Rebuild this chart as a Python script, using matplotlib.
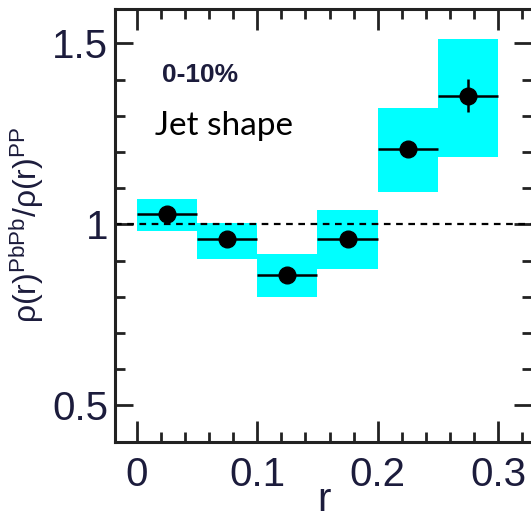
import numpy as np
import matplotlib
matplotlib.use("Agg")
import matplotlib.pyplot as plt
from matplotlib.patches import Rectangle
from matplotlib.ticker import MultipleLocator

# jet shape ratio PbPb / pp, 0-10% centrality
r_lo = [0.00, 0.05, 0.10, 0.15, 0.20, 0.25]
r_hi = [0.05, 0.10, 0.15, 0.20, 0.25, 0.30]
ratio = [1.030, 0.959, 0.860, 0.960, 1.207, 1.356]
stat_err = [0.010, 0.010, 0.010, 0.012, 0.015, 0.046]
sys_lo = [0.982, 0.905, 0.800, 0.878, 1.089, 1.186]
sys_hi = [1.071, 1.005, 0.919, 1.040, 1.322, 1.512]

plt.rcParams['font.family'] = ['Liberation Sans', 'DejaVu Sans']
plt.rcParams['mathtext.fontset'] = 'custom'
plt.rcParams['mathtext.rm'] = 'Liberation Sans'
plt.rcParams['mathtext.it'] = 'Liberation Sans'

lab_col = '#1c1c3c'

fig = plt.figure(figsize=(5.31, 5.21), dpi=100)
ax = fig.add_axes([115 / 531, 79.3 / 521, 417 / 531, 432.7 / 521])

r_c = [(a + b) / 2 for a, b in zip(r_lo, r_hi)]
for a, b, lo, hi in zip(r_lo, r_hi, sys_lo, sys_hi):
    ax.add_patch(Rectangle((a, lo), b - a, hi - lo, facecolor='#00ffff',
                           edgecolor='none', zorder=1))

ax.axhline(1.0, color='black', lw=1.6, ls=(0, (3, 2.5)), zorder=2)

xerr = [(b - a) / 2 for a, b in zip(r_lo, r_hi)]
ax.errorbar(r_c, ratio, xerr=xerr, yerr=stat_err, fmt='o', color='black',
            ms=12, elinewidth=1.8, capsize=0, zorder=3)

ax.set_xlim(-0.018, 0.328)
ax.set_ylim(0.40, 1.595)
ax.xaxis.set_major_locator(MultipleLocator(0.1))
ax.xaxis.set_minor_locator(MultipleLocator(0.02))
ax.yaxis.set_major_locator(MultipleLocator(0.5))
ax.yaxis.set_minor_locator(MultipleLocator(0.1))
ax.set_xticks([0, 0.1, 0.2, 0.3])
ax.set_xticklabels(['0', '0.1', '0.2', '0.3'])
ax.set_yticks([0.5, 1.0, 1.5])
ax.set_yticklabels(['0.5', '1', '1.5'])

ax.tick_params(which='both', direction='in', top=True, right=True,
               width=2, color='#222222', labelsize=29, labelcolor=lab_col)
ax.tick_params(axis='x', which='major', length=15, pad=10)
ax.tick_params(axis='y', which='major', length=13, pad=5)
ax.tick_params(which='minor', length=7)
for s in ax.spines.values():
    s.set_linewidth(2.2)
    s.set_color('#222222')
ax.spines['right'].set_visible(False)

ax.set_xlabel('r', fontsize=29, color=lab_col, labelpad=-9)
ax.set_ylabel(r'$\rho(r)^{PbPb}/\rho(r)^{PP}$', fontsize=23, color=lab_col,
              labelpad=4)

ax.text(162 / 531, 1 - 75 / 521, '0-10%', transform=fig.transFigure,
        fontsize=19, fontweight='bold', color=lab_col, va='center', ha='left')
ax.text(155 / 531, 1 - 126 / 521, 'Jet shape', transform=fig.transFigure,
        fontsize=24, family=['Lato', 'DejaVu Sans'], color='black',
        va='center', ha='left')

fig.savefig('out.png', dpi=100)
